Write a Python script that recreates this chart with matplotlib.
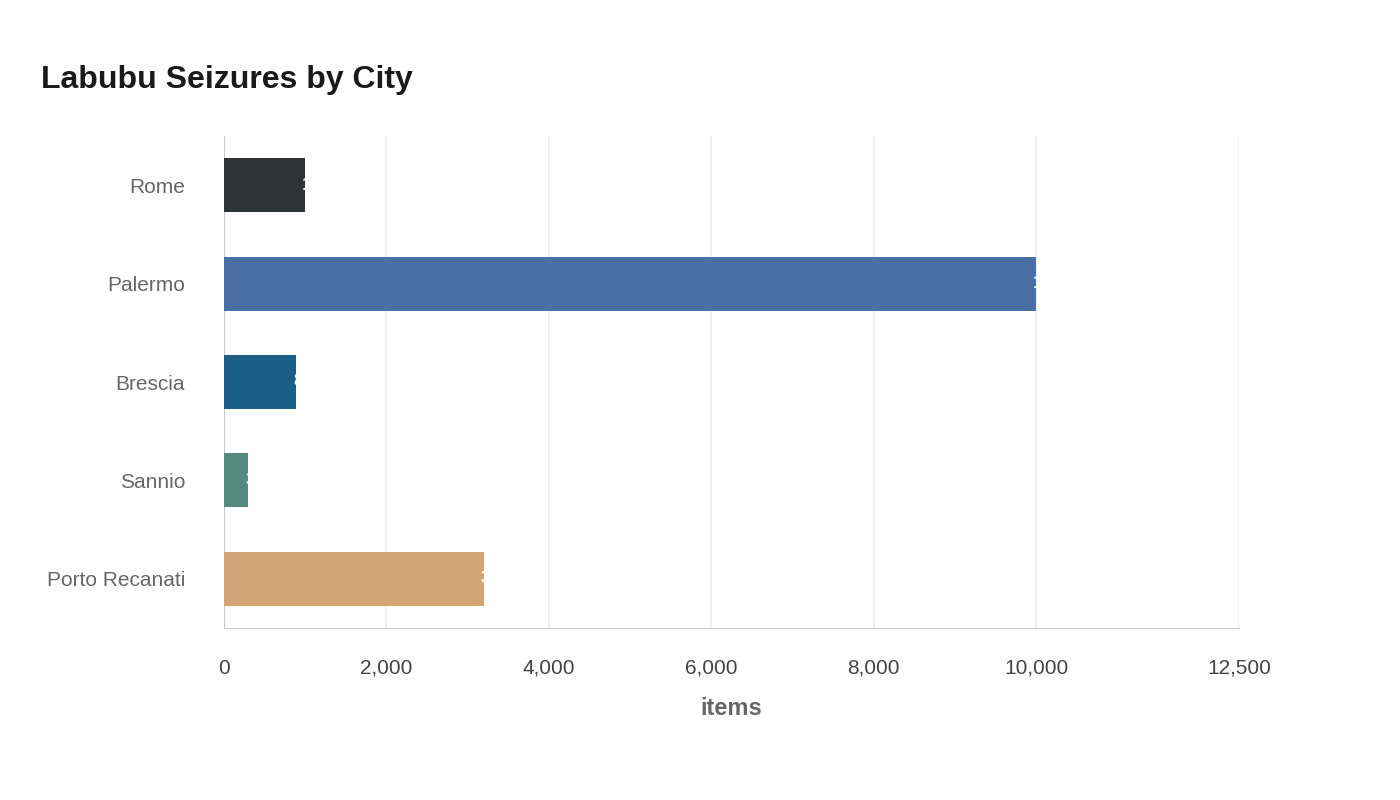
import matplotlib
matplotlib.use("Agg")
import matplotlib.pyplot as plt
from matplotlib.patches import FancyBboxPatch

plt.rcParams['font.family'] = ['Liberation Sans', 'DejaVu Sans']

cities = ["Rome", "Palermo", "Brescia", "Sannio", "Porto Recanati"]
items = [1000, 10000, 890, 300, 3200]
colors = ["#2d3436", "#4a6fa5", "#1b5f87", "#528b7b", "#d4a574"]
ticks = [0, 2000, 4000, 6000, 8000, 10000, 12500]

fig = plt.figure(figsize=(14, 8), dpi=100)
ax = fig.add_axes([0.16, 0.215, 0.725, 0.615])

for i, (c, v, col) in enumerate(zip(cities, items, colors)):
    y = len(cities) - 1 - i
    bar = FancyBboxPatch((0, y - 0.275), v, 0.55,
                         boxstyle="round,pad=0,rounding_size=0.06",
                         mutation_aspect=1 / 0.06 * 0.06 * 1.0,
                         fc=col, ec="none", zorder=3)
    bar = ax.barh(y, v, height=0.55, color=col, zorder=3)[0]
    t = ax.text(v - 40, y, f"{v:,}", ha="left", va="center", color="white",
                fontsize=14, fontweight="bold", zorder=4)
    t.set_clip_path(bar)

ax.set_yticks(range(len(cities)))
ax.set_yticklabels(cities[::-1], fontsize=15, color="#666666")
ax.set_xticks(ticks)
ax.set_xticklabels([f"{t:,}" for t in ticks], fontsize=15, color="#444444")
ax.set_xlim(0, 12500)
ax.set_ylim(-0.5, len(cities) - 0.5)
ax.grid(axis="x", color="#eeeeee", lw=1.2, zorder=0)
ax.tick_params(axis="y", length=0, pad=28)
ax.tick_params(axis="x", length=0, pad=22)
for s in ["top", "right"]:
    ax.spines[s].set_visible(False)
for s in ["left", "bottom"]:
    ax.spines[s].set_color("#cccccc")
ax.set_xlabel("items", fontsize=17, fontweight="bold", color="#666666", labelpad=14)
fig.text(0.029, 0.9, "Labubu Seizures by City", fontsize=23, fontweight="bold",
         color="#1a1a1a", va="center")
fig.savefig("out.png")
